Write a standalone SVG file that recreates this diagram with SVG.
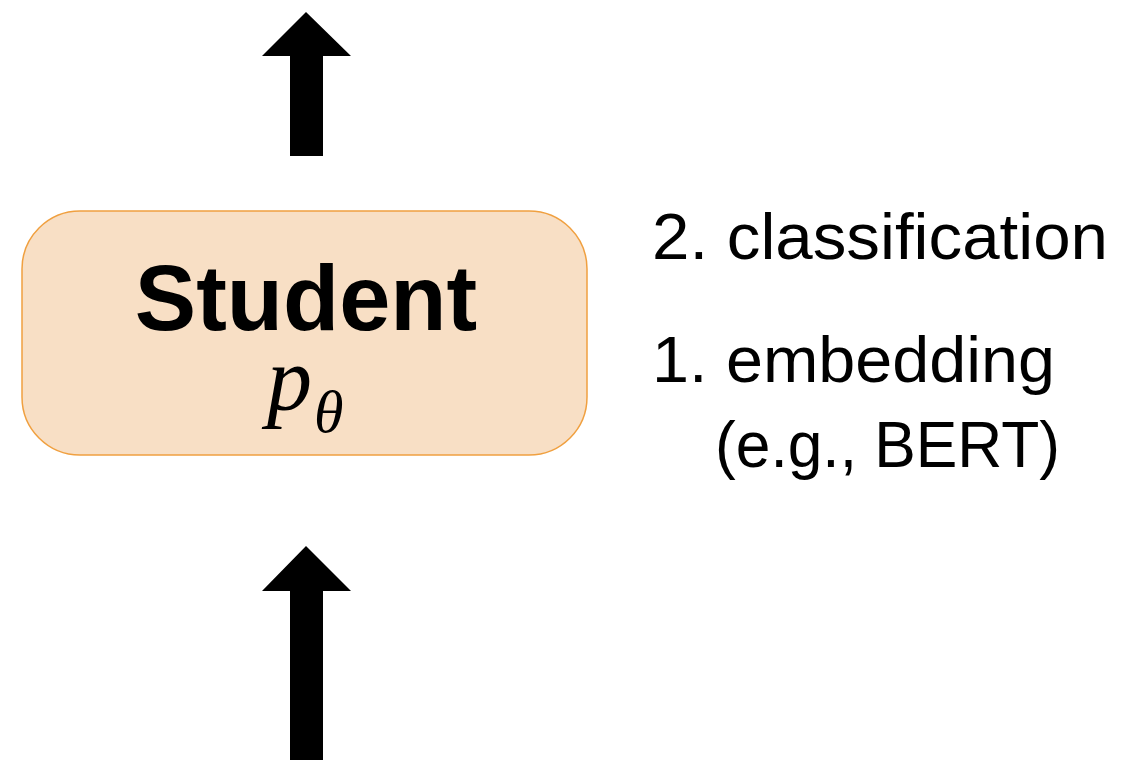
<svg xmlns="http://www.w3.org/2000/svg" width="1143" height="760" viewBox="0 0 1143 760">
  <style>
    .arrow { fill: #000000; }
    .box { fill: #f8dfc5; stroke: #f0a040; stroke-width: 1.5; }
    .title { font-family: "Liberation Sans", Arial, sans-serif; font-weight: bold; font-size: 92px; fill: #000; }
    .math { font-family: "Liberation Serif", "Times New Roman", serif; font-style: italic; fill: #000; }
    .label { font-family: "Liberation Sans", Arial, sans-serif; font-size: 64px; fill: #000; }
  </style>

  <g id="connectors">
    <!-- output arrow above the student -->
    <polygon class="arrow" points="306,12 351,56 323,56 323,156 290,156 290,56 262,56"/>
    <!-- input arrow below the student -->
    <polygon class="arrow" points="306,546 351,591 323,591 323,760 290,760 290,591 262,591"/>
  </g>

  <g id="student">
    <rect class="box" x="22" y="211" width="565" height="244" rx="58" ry="58"/>
    <text class="title" x="306" y="330" text-anchor="middle">Student</text>
    <text class="math" x="267" y="410" font-size="90">p</text>
    <text class="math" x="314" y="432" font-size="60">θ</text>
  </g>

  <g id="steps">
    <text class="label" x="652" y="259" textLength="456" lengthAdjust="spacingAndGlyphs">2. classification</text>
    <text class="label" x="652" y="382" textLength="403" lengthAdjust="spacingAndGlyphs">1. embedding</text>
    <text class="label" x="715" y="467" textLength="345" lengthAdjust="spacingAndGlyphs">(e.g., BERT)</text>
  </g>
</svg>
